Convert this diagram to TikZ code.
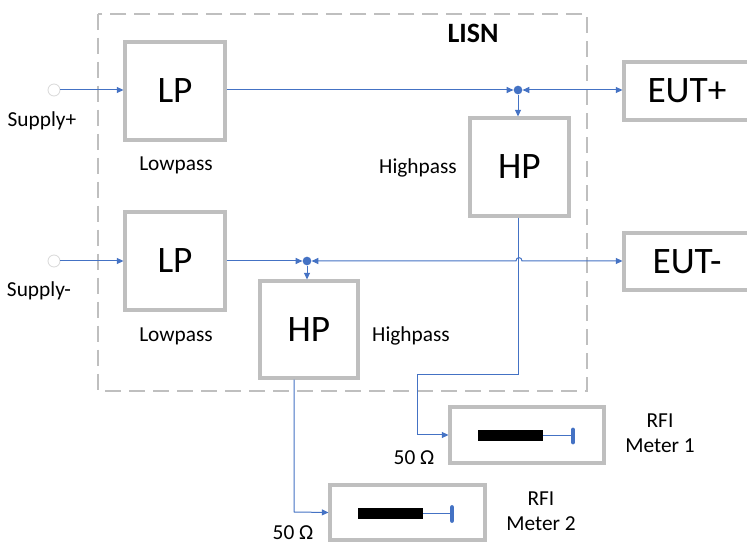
\documentclass[tikz,border=0pt]{standalone}
\usepackage{fontspec}
\setmainfont{Carlito}
\usetikzlibrary{arrows.meta,calc}
\definecolor{boxgray}{HTML}{BFBFBF}
\definecolor{lineblue}{HTML}{4472C4}
\tikzset{
  blk/.style={draw=boxgray,line width=2.3pt,inner sep=0pt,font=\fontsize{28}{30}\selectfont},
  conn/.style={draw=lineblue,line width=0.75pt},
  tip/.style={-{Triangle[length=5pt,width=4.5pt]}},
  dtip/.style={{Triangle[length=5pt,width=4.5pt]}-{Triangle[length=5pt,width=4.5pt]}},
  dot/.style={circle,fill=lineblue,inner sep=0pt,minimum size=6.5pt},
  src/.style={circle,draw=boxgray!60,line width=0.6pt,inner sep=0pt,minimum size=9pt},
  lbl/.style={font=\fontsize{16}{19}\selectfont,align=center},
}
\begin{document}
\begin{tikzpicture}[x=0.75pt,y=-0.75pt]
\clip (0,0) rectangle (747,545);
\fill[white] (0,0) rectangle (747,545);
% LISN frame
\draw[boxgray,line width=2.2pt,dash pattern=on 12pt off 6pt] (98,14) rectangle (587,391);
\node[font=\fontsize{21}{23}\selectfont\bfseries] (lisn) at (473,33) {LISN};
% blocks
\node[blk,minimum width=75pt,minimum height=73.5pt] (lp1) at (175,91) {LP};
\node[blk,minimum width=75pt,minimum height=73.5pt] (lp2) at (175,261) {LP};
\node[blk,minimum width=74.25pt,minimum height=73.5pt] (hp1) at (519.5,167) {HP};
\node[blk,minimum width=73.5pt,minimum height=72.75pt] (hp2) at (309,329.5) {HP};
\node[blk,minimum width=94.5pt,minimum height=43.5pt] (eutp) at (687,91) {EUT+};
\node[blk,minimum width=94.5pt,minimum height=42.75pt] (eutm) at (687,261.5) {EUT-};
\node[blk,minimum width=115.5pt,minimum height=42pt] (m1) at (527,435) {};
\node[blk,minimum width=116.25pt,minimum height=41.25pt] (m2) at (407.5,512.5) {};
% labels
\node[lbl] (lo1) at (176,165) {Lowpass};
\node[lbl] (lo2) at (176,336) {Lowpass};
\node[lbl] (hi1) at (418,168) {Highpass};
\node[lbl] (hi2) at (411,336) {Highpass};
\node[lbl] (sp) at (42,121) {Supply+};
\node[lbl] (sm) at (39,291) {Supply-};
\node[lbl] (r1) at (660,433) {RFI\\Meter 1};
\node[lbl] (r2) at (541,511) {RFI\\Meter 2};
\node[lbl] (o1) at (414,458) {50 Ω};
\node[lbl] (o2) at (293,533) {50 Ω};
% sources and junctions
\node[src] (s1) at (54,90) {};
\node[src] (s2) at (54,261) {};
\node[dot] (j1) at (518,90) {};
\node[dot] (j2) at (307,261) {};
\coordinate (b1) at (417,375);
\coordinate (b2) at (294,512);
% connectors
\draw[conn,tip] (s1) -- (s1 -| lp1.west);
\draw[conn,tip] (s2) -- (s2 -| lp2.west);
\draw[conn,tip] (lp1.east |- j1) -- (j1.west);
\draw[conn,tip] (lp2.east |- j2) -- (j2.west);
\draw[conn,tip] (j1.south) -- (j1 |- hp1.north);
\draw[conn,tip] (j2.south) -- (j2 |- hp2.north);
\draw[conn,dtip] (j1.east) -- (j1 -| eutp.west);
\draw[conn,dtip] (j2.east) -- (516,261) .. controls (516,256.5) and (522,256.5) .. (522,261) -- (j2 -| eutm.west);
\draw[conn,tip] (hp1.south -| j1) |- (b1) |- (m1.west);
\draw[conn,tip] (hp2.south -| b2) -- (b2) -- (m2.west);
% meter internals
\fill[black] ($(m1)+(-49,-5)$) rectangle ($(m1)+(16,6)$);
\draw[conn] ($(m1)+(16,1)$) -- ($(m1)+(46,1)$);
\draw[lineblue,line width=3.6pt,line cap=round] ($(m1)+(46,-5)$) -- ($(m1)+(46,7)$);
\fill[black] ($(m2)+(-49.5,-4)$) rectangle ($(m2)+(15.5,7)$);
\draw[conn] ($(m2)+(15.5,1.5)$) -- ($(m2)+(44.5,1.5)$);
\draw[lineblue,line width=3.6pt,line cap=round] ($(m2)+(44.5,-5)$) -- ($(m2)+(44.5,8)$);
\end{tikzpicture}
\end{document}
